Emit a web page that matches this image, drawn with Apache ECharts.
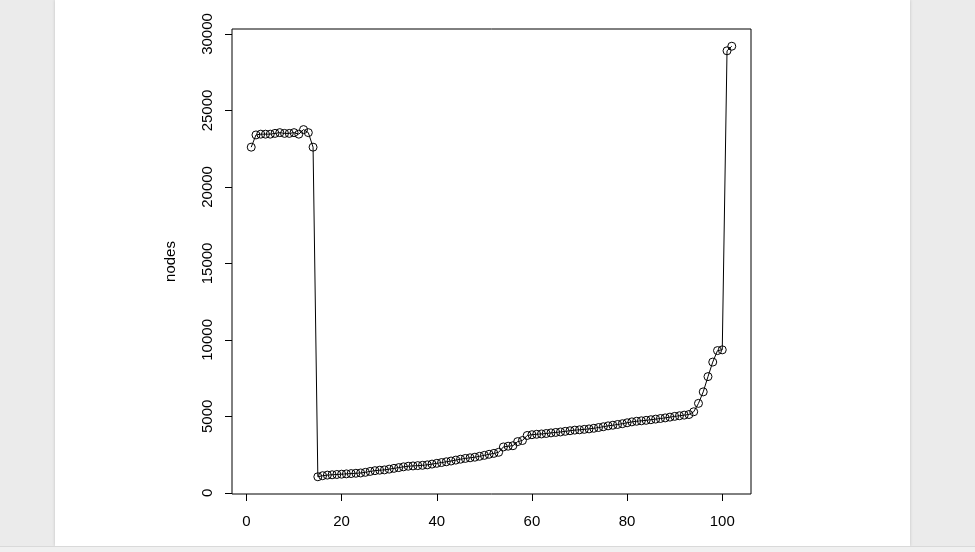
<!DOCTYPE html>
<html>
<head>
<meta charset="utf-8">
<script src="https://cdn.jsdelivr.net/npm/echarts@6/dist/echarts.min.js"></script>
<style>
  html, body { margin: 0; padding: 0; width: 975px; height: 552px; overflow: hidden; background: #ebebeb; }
  #panel { position: absolute; left: 55px; top: 0; width: 855px; height: 546px; background: #ffffff;
           box-shadow: 0 0 3px rgba(0,0,0,0.18); }
  #bottom { position: absolute; left: 0; top: 546px; width: 975px; height: 6px; background: #f0f0f0; border-top: 1px solid #d9d9d9; }
  #chart { position: absolute; left: 0; top: 0; width: 975px; height: 552px; }
</style>
</head>
<body>
<div id="panel"></div>
<div id="bottom"></div>
<div id="chart"></div>
<script>
// Index (1..102) and node counts
const indices = [];
for (let i = 1; i <= 102; i++) indices.push(i);

const nodes = [
  22600, 23400, 23450, 23450, 23450, 23500, 23550, 23500, 23500, 23550,
  23450, 23750, 23550, 22600, 1050, 1120, 1160, 1180, 1200, 1220,
  1240, 1260, 1280, 1300, 1340, 1400, 1450, 1480, 1500, 1550,
  1600, 1650, 1700, 1740, 1760, 1780, 1800, 1830, 1880, 1930,
  1980, 2030, 2080, 2140, 2200, 2250, 2290, 2330, 2390, 2450,
  2520, 2580, 2650, 3000, 3050, 3080, 3350, 3420, 3750, 3800,
  3830, 3850, 3880, 3920, 3950, 3980, 4020, 4060, 4100, 4120,
  4150, 4180, 4220, 4270, 4320, 4380, 4420, 4470, 4520, 4580,
  4640, 4680, 4710, 4740, 4780, 4820, 4860, 4900, 4950, 5000,
  5040, 5080, 5120, 5300, 5850, 6600, 7600, 8550, 9300, 9350,
  28900, 29200
];

const xTicks = [0, 20, 40, 60, 80, 100];
const yTicks = [0, 5000, 10000, 15000, 20000, 25000, 30000];
const yTitle = 'nodes';

const points = indices.map((x, i) => [x, nodes[i]]);
const font = 'Liberation Sans, Arial, Helvetica, sans-serif';
const plain = v => String(v);

const chart = echarts.init(document.getElementById('chart'), null, { renderer: 'canvas' });
chart.setOption({
  animation: false,
  backgroundColor: 'transparent',
  grid: {
    left: 232, top: 29, width: 519, height: 465,
    show: true, borderColor: '#000', borderWidth: 1, backgroundColor: 'transparent',
    containLabel: false
  },
  xAxis: {
    type: 'value',
    min: -3.04, max: 106.04,
    axisLine: { show: false, onZero: false },
    splitLine: { show: false },
    axisTick: { show: true, customValues: xTicks, length: 7, inside: false,
                lineStyle: { color: '#000', width: 1 } },
    axisLabel: { customValues: xTicks, formatter: plain, margin: 20, fontSize: 15, color: '#000', fontFamily: font }
  },
  yAxis: {
    type: 'value',
    min: -76, max: 30326,
    name: yTitle,
    nameLocation: 'middle',
    nameRotate: 90,
    nameGap: 54,
    nameTextStyle: { fontSize: 15, color: '#000', fontFamily: font },
    axisLine: { show: false, onZero: false },
    splitLine: { show: false },
    axisTick: { show: true, customValues: yTicks, length: 7, inside: false,
                lineStyle: { color: '#000', width: 1 } },
    axisLabel: { customValues: yTicks, formatter: plain, rotate: 90, margin: 17, fontSize: 15, color: '#000', fontFamily: font }
  },
  series: [{
    type: 'line',
    data: points,
    symbol: 'circle',
    symbolSize: 8,
    showAllSymbol: true,
    itemStyle: { color: 'rgba(0,0,0,0)', borderColor: '#000', borderWidth: 1 },
    lineStyle: { color: '#000', width: 1 },
    emphasis: { disabled: true },
    z: 3
  }]
});
</script>
</body>
</html>
